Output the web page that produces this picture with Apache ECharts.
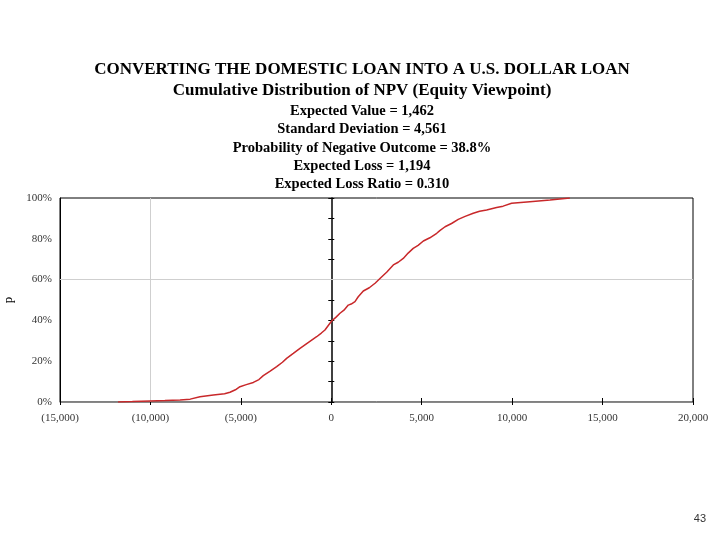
<!DOCTYPE html>
<html><head><meta charset="utf-8">
<script src="https://cdn.jsdelivr.net/npm/echarts@6/dist/echarts.min.js"></script>
<style>html,body{margin:0;padding:0;background:#fff}#c{width:720px;height:540px}</style>
</head><body><div id="c"></div>
<script>
// NPV values (x) and cumulative probabilities (y)
var npv = [-11790,-11000,-10020,-9200,-8360,-7800,-7260,-6520,-5900,-5600,-5300,-5050,-4700,-4310,-4000,-3760,-3400,-3020,-2700,-2470,-2100,-1730,-1300,-810,-550,-350,20,250,480,700,940,1100,1310,1490,1770,2100,2420,2750,3060,3430,3700,3980,4250,4530,4800,5090,5450,5830,6000,6290,6650,7020,7400,7850,8200,8590,9140,9500,9970,10980,12090,13190];
var cumProb = [0.000,0.002,0.005,0.007,0.010,0.014,0.026,0.034,0.040,0.048,0.060,0.075,0.085,0.096,0.110,0.129,0.150,0.173,0.195,0.214,0.238,0.263,0.290,0.320,0.338,0.353,0.397,0.415,0.435,0.450,0.475,0.480,0.492,0.516,0.544,0.560,0.582,0.610,0.636,0.672,0.685,0.704,0.730,0.753,0.768,0.789,0.805,0.827,0.840,0.859,0.875,0.895,0.910,0.925,0.935,0.941,0.953,0.960,0.974,0.982,0.990,1.000];
var xTicks = [-15000,-10000,-5000,0,5000,10000,15000,20000];
var yTicks = [0,0.2,0.4,0.6,0.8,1.0];
var gridLineX = [-10000];
var gridLineY = [0.6];
var titleLines = [
  "CONVERTING THE DOMESTIC LOAN INTO A U.S. DOLLAR LOAN",
  "Cumulative Distribution of NPV (Equity Viewpoint)",
  "Expected Value = 1,462",
  "Standard Deviation = 4,561",
  "Probability of Negative Outcome = 38.8%",
  "Expected Loss = 1,194",
  "Expected Loss Ratio = 0.310"
];
var pageNumber = "43";

var serif = "'Liberation Serif','DejaVu Serif',serif";
function fmtX(v){
  var s = Math.abs(v).toLocaleString('en-US');
  return v < 0 ? '(' + s + ')' : s;
}
var data = npv.map(function(v,i){return [v,cumProb[i]];});
var tY = [70,91,111,129,148,166,184];
var tSize = [17,17,14.5,14.5,14.5,14.5,14.5];
var graphics = titleLines.map(function(t,i){
  return {type:'text', x:362, y:tY[i], style:{text:t, font:'bold '+tSize[i]+'px '+serif, fill:'#000', align:'center', verticalAlign:'middle'}};
});
graphics.push({type:'text', x:706, y:519, style:{text:pageNumber, font:'11px sans-serif', fill:'#333', align:'right', verticalAlign:'middle'}});

var chart = echarts.init(document.getElementById('c'));
var markData = gridLineX.map(function(v){return {xAxis:v};}).concat(gridLineY.map(function(v){return {yAxis:v};}));
chart.setOption({
  animation:false,
  grid:{left:60,right:27,top:198,bottom:138,show:true,borderColor:'#000',borderWidth:1,backgroundColor:'transparent',containLabel:false,outerBoundsMode:'none'},
  graphic:graphics,
  xAxis:[{
    type:'value', min:xTicks[0], max:xTicks[xTicks.length-1], interval:5000,
    splitLine:{show:false},
    axisLine:{onZero:false,lineStyle:{color:'#888',width:1}},
    axisTick:{show:true,inside:true,length:4,lineStyle:{color:'#000'}},
    axisLabel:{formatter:fmtX, fontFamily:serif, fontSize:11, color:'#333', margin:11}
  },{
    type:'value', min:xTicks[0], max:xTicks[xTicks.length-1], interval:5000, position:'bottom',
    splitLine:{show:false}, axisLine:{show:false,onZero:false},
    axisTick:{show:true,inside:false,length:3,lineStyle:{color:'#000'}},
    axisLabel:{show:false}
  }],
  yAxis:[{
    type:'value', min:0, max:1, interval:0.2,
    name:'p', nameLocation:'middle', nameGap:38, nameRotate:90,
    nameTextStyle:{fontFamily:serif, fontSize:13, color:'#000'},
    splitLine:{show:false},
    axisLine:{show:true,onZero:false,lineStyle:{color:'#000'}},
    axisTick:{show:false},
    axisLabel:{formatter:function(v){return Math.round(v*100)+'%';}, fontFamily:serif, fontSize:11, color:'#333', margin:8}
  },{
    type:'value', min:0, max:1, interval:0.1, position:'left',
    splitLine:{show:false},
    axisLine:{show:true,onZero:true,lineStyle:{color:'#000',width:1.5}},
    axisTick:{show:true,inside:true,length:3,lineStyle:{color:'#000'}},
    axisLabel:{show:false}
  },{
    type:'value', min:0, max:1, interval:0.1, position:'left',
    splitLine:{show:false},
    axisLine:{show:false,onZero:true},
    axisTick:{show:true,inside:false,length:3,lineStyle:{color:'#000'}},
    axisLabel:{show:false}
  }],
  series:[{
    type:'line', data:data, showSymbol:false, symbol:'none',
    lineStyle:{color:'#c8282a', width:1.5},
    markLine:{silent:true, symbol:['none','none'], label:{show:false},
      lineStyle:{color:'#cfcfcf', type:'solid', width:1}, data:markData},
    z:5
  }]
});
</script></body></html>
